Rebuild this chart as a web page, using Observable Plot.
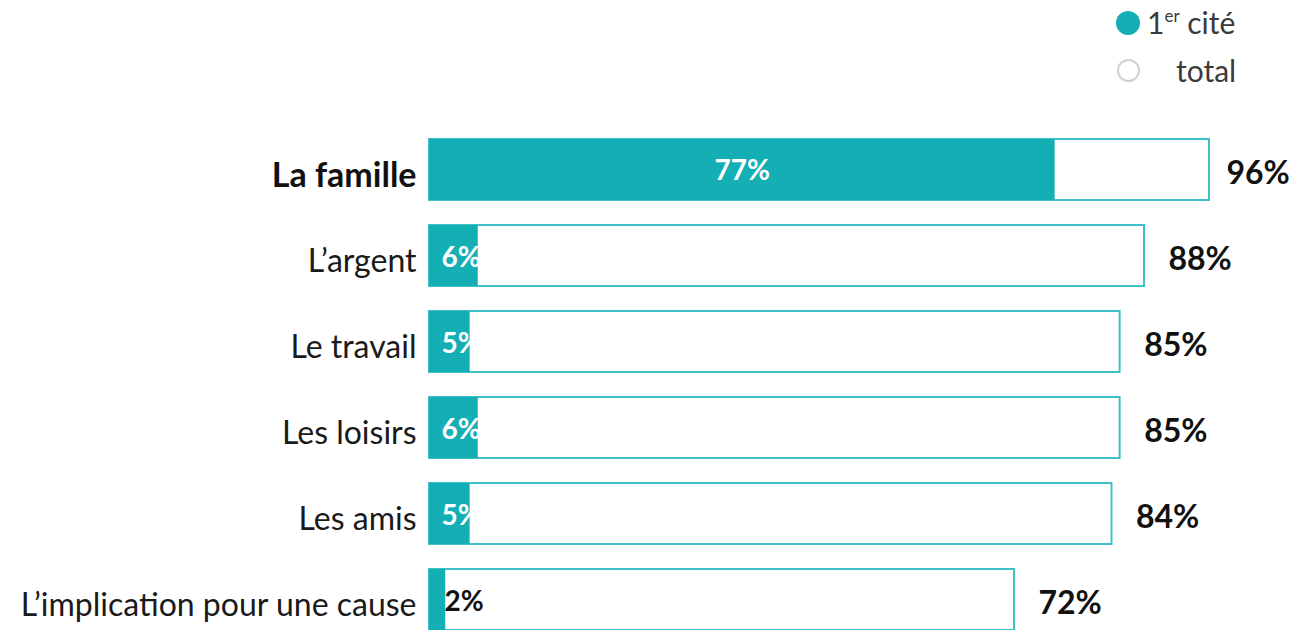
<!DOCTYPE html>
<html>
<head>
<meta charset="utf-8">
<script src="https://cdn.jsdelivr.net/npm/d3@7/dist/d3.min.js"></script>
<script src="https://cdn.jsdelivr.net/npm/@observablehq/plot@0.6/dist/plot.umd.min.js"></script>
<style>
  html, body { margin: 0; padding: 0; background: #fff; }
  body { position: relative; width: 1307px; height: 630px; overflow: hidden; font-family: Lato, sans-serif; }
  #chart { position: absolute; left: 0; top: 0; }
  .lg { position: absolute; font-size: 30px; color: #3a3a3a; line-height: 1; white-space: nowrap; }
  .dot { position: absolute; border-radius: 50%; box-sizing: border-box; }
  sup { font-size: 17px; vertical-align: 0; position: relative; top: -12px; }
</style>
</head>
<body>
<div id="chart"></div>
<div id="legend"></div>
<script>
const categories = ["La famille", "L’argent", "Le travail", "Les loisirs", "Les amis", "L’implication pour une cause"];
const firstCited = [77, 6, 5, 6, 5, 2];
const totalCited = [96, 88, 85, 85, 84, 72];

const teal = "#14aeb5";
const outline = "#40c1c9";
const data = categories.map((c, i) => ({category: c, first: firstCited[i], total: totalCited[i], i}));

const lg = document.getElementById("legend");
lg.innerHTML = `
  <div class="dot" style="left:1116px;top:11px;width:24px;height:24px;background:${teal}"></div>
  <div class="lg" style="left:1147px;top:7px">1<sup>er</sup> cité</div>
  <div class="dot" style="left:1117px;top:59px;width:23px;height:23px;border:2px solid #d0d0d0;background:#fff"></div>
  <div class="lg" style="left:1176px;top:55px">total</div>
`;

const fsLab = 32, fsIn = 28, fsTot = 32;
const chart = Plot.plot({
  width: 1307,
  height: 660,
  marginLeft: 429,
  marginRight: 98,
  marginTop: 112,
  marginBottom: 2,
  x: {domain: [0, 96], axis: null},
  y: {domain: categories, padding: 0.286, axis: null},
  style: {fontFamily: "Lato, sans-serif", background: "white"},
  marks: [
    Plot.barX(data, {x: "total", y: "category", fill: "white", stroke: outline, strokeWidth: 2}),
    Plot.barX(data, {x: "first", y: "category", fill: teal}),
    Plot.text(data.filter(d => d.first >= 50), {x: d => d.first / 2, y: "category", text: d => d.first + "%", fill: "white", fontWeight: "bold", fontSize: fsIn, dy: 1}),
    Plot.text(data.filter(d => d.first < 50 && d.first >= 3), {x: d => 0, y: "category", text: d => d.first + "%", fill: "white", fontWeight: "bold", fontSize: fsIn, textAnchor: "start", dx: 12, dy: 2}),
    Plot.text(data.filter(d => d.first < 3), {x: d => 0, y: "category", text: d => d.first + "%", fill: "#111", fontWeight: "bold", fontSize: fsIn, textAnchor: "start", dx: 15, dy: 2}),
    Plot.text(data.filter(d => d.i === 0), {x: "total", y: "category", text: d => d.total + "%", fill: "#111", fontWeight: "bold", fontSize: fsTot, textAnchor: "start", dx: 17, dy: 4}),
    Plot.text(data.filter(d => d.i > 0), {x: "total", y: "category", text: d => d.total + "%", fill: "#111", fontWeight: "bold", fontSize: fsTot, textAnchor: "start", dx: 24, dy: 4}),
    Plot.text(data.filter(d => d.i === 0), {x: d => 0, y: "category", text: "category", fill: "#111", fontWeight: "bold", fontSize: 34, textAnchor: "end", dx: -13, dy: 6}),
    Plot.text(data.filter(d => d.i > 0), {x: d => 0, y: "category", text: "category", fill: "#1a1a1a", fontSize: fsLab, textAnchor: "end", dx: -13, dy: 6})
  ]
});
document.getElementById("chart").append(chart);
</script>
</body>
</html>
